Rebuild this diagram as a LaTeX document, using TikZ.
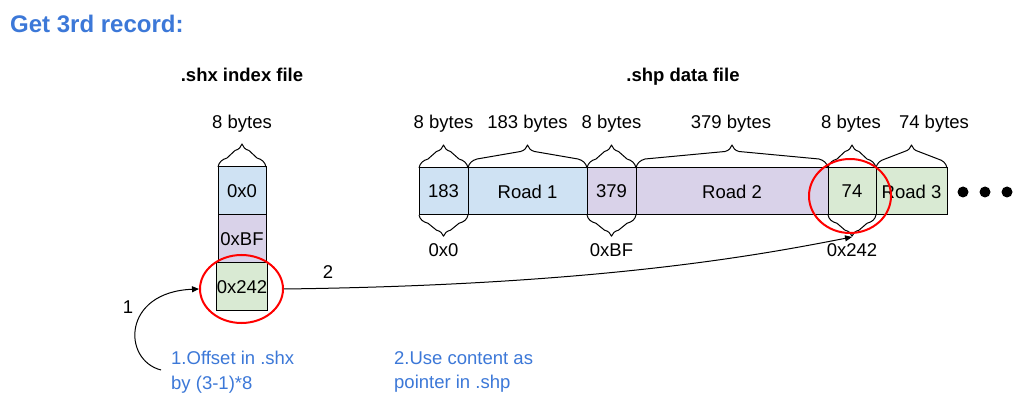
\documentclass[tikz,border=0pt]{standalone}
\usepackage{fontspec}
\setmainfont{Liberation Sans}
\usetikzlibrary{shapes.geometric,arrows.meta}
\definecolor{cblue}{HTML}{CFE2F3}
\definecolor{cpurp}{HTML}{D9D2E9}
\definecolor{cgreen}{HTML}{D9EAD3}
\definecolor{tblue}{HTML}{3C78D8}
\definecolor{hired}{HTML}{FF0000}
% curly brace: #1 left x, #2 right x, #3 base y, #4 direction/scale (-1 up, +1 down)
\newcommand{\cbrace}[4]{%
  \pgfmathsetmacro\cbm{(#1+#2)/2}%
  \draw[brl] (#1,#3) .. controls ({#1+1},{#3+#4*5}) and ({#1+4},{#3+#4*7.5}) .. ({#1+9},{#3+#4*9})
    -- ({\cbm-7},{#3+#4*16.5}) .. controls ({\cbm-3},{#3+#4*17.5}) and ({\cbm-1},{#3+#4*20}) .. (\cbm,{#3+#4*23})
    .. controls ({\cbm+1},{#3+#4*20}) and ({\cbm+3},{#3+#4*17.5}) .. ({\cbm+7},{#3+#4*16.5})
    -- ({#2-9},{#3+#4*9}) .. controls ({#2-4},{#3+#4*7.5}) and ({#2-1},{#3+#4*5}) .. (#2,#3);%
}
\begin{document}
\begin{tikzpicture}[x=1pt,y=-1pt,
  every node/.style={font=\fontsize{18.5}{22}\selectfont, inner sep=0pt},
  cell/.style={draw, line width=1pt, minimum height=48pt},
  lbl/.style={anchor=base},
  hdr/.style={anchor=base, font=\fontsize{18.5}{22}\selectfont\bfseries},
  note/.style={anchor=west, align=left, text=tblue, font=\fontsize{18.5}{24.5}\selectfont},
  brl/.style={line width=1pt, line join=round},
  hilite/.style={ellipse, draw=hired, line width=2pt},
  conn/.style={line width=1pt, -{Triangle[length=7pt,width=6pt]}},
  dot/.style={circle, fill=black, minimum size=11pt}
]
\useasboundingbox (0,0) rectangle (1025,411);
\fill[white] (0,0) rectangle (1025,411);

% title and headers
\node[anchor=base west, font=\fontsize{24}{28}\selectfont\bfseries, text=tblue] (title) at (10,33) {Get 3rd record:};
\node[hdr] (hshx) at (242,82) {.shx index file};
\node[hdr] (hshp) at (683,82) {.shp data file};

% shx index file
\node[cell, fill=cblue,  minimum width=48pt] (x1) at (242,191) {0x0};
\node[cell, fill=cpurp,  minimum width=48pt] (x2) at (242,239) {0xBF};
\node[cell, fill=cgreen, minimum width=48pt] (x3) at (242,287) {0x242};
\cbrace{218}{266}{167}{-1}
\node[lbl] (xb) at (242,129) {8 bytes};

% shp data file
\node[cell, fill=cblue,  minimum width=49pt,  minimum height=47pt] (s1) at (443.5,191.5) {183};
\node[cell, fill=cblue,  minimum width=119pt, minimum height=47pt] (s2) at (527.5,191.5) {Road 1};
\node[cell, fill=cpurp,  minimum width=49pt,  minimum height=47pt] (s3) at (611.5,191.5) {379};
\node[cell, fill=cpurp,  minimum width=192pt, minimum height=47pt] (s4) at (732,191.5) {Road 2};
\node[cell, fill=cgreen, minimum width=48pt,  minimum height=47pt] (s5) at (852,191.5) {74};
\node[cell, fill=cgreen, minimum width=71pt,  minimum height=47pt] (s6) at (911.5,191.5) {Road 3};

\cbrace{419}{468}{168}{-1}
\cbrace{468}{587}{168}{-1}
\cbrace{587}{636}{168}{-1}
\cbrace{636}{828}{168}{-1}
\cbrace{828}{876}{168}{-1}
\cbrace{876}{947}{168}{-1}
\cbrace{419}{468}{215}{0.92}
\cbrace{587}{636}{215}{0.92}
\cbrace{828}{876}{215}{0.92}

\node[lbl] (t1) at (443.5,129) {8 bytes};
\node[lbl] (t2) at (527.5,129) {183 bytes};
\node[lbl] (t3) at (611.5,129) {8 bytes};
\node[lbl] (t4) at (731,129) {379 bytes};
\node[lbl] (t5) at (851,129) {8 bytes};
\node[lbl] (t6) at (934,129) {74 bytes};

\node[lbl] (b1) at (443.5,257) {0x0};
\node[lbl] (b3) at (611.5,257) {0xBF};
\node[lbl] (b5) at (852,257) {0x242};

\node[dot] (d1) at (963,192) {};
\node[dot] (d2) at (985,192) {};
\node[dot] (d3) at (1007,192) {};

% highlights
\node[hilite, minimum width=83pt, minimum height=68pt] (e1) at (241.5,289) {};
\node[hilite, minimum width=82pt, minimum height=74pt] (e2) at (850,196) {};

% connectors
\coordinate (tip74) at (852,237);
\coordinate (c1start) at (161,370);
\draw[conn] (e1.east) .. controls (600,285) and (760,255) .. (tip74);
\draw[conn] (c1start) .. controls (122,360) and (122,292) .. (e1.west);
\node[lbl] (l2) at (328,279) {2};
\node[lbl] (l1) at (128,314) {1};

% notes
\node[note] (n1) at (171,372) {1.Offset in .shx\\by (3-1)*8};
\node[note] (n2) at (394,372) {2.Use content as\\pointer in .shp};
\end{tikzpicture}
\end{document}
